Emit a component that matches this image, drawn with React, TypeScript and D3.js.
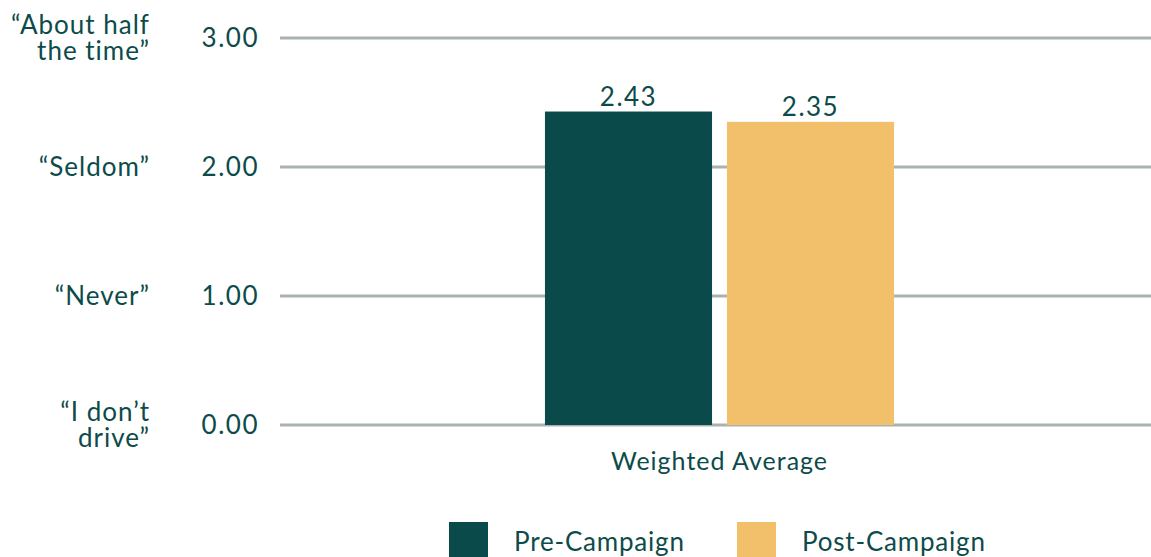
import { useEffect, useRef } from "react"
import * as d3 from "d3"

const categories = ["Weighted Average"]
const series = ["Pre-Campaign", "Post-Campaign"]
const values = [2.43, 2.35]
const yTicks = [0, 1, 2, 3]
const yTickLabels = [["“I don’t", "drive”"], ["“Never”"], ["“Seldom”"], ["“About half", "the time”"]]
const colors = ["#0b4a4b", "#f2c06b"]

const textColor = "#0d4b4b"
const font = "Lato, 'Noto Sans', sans-serif"

export default function App() {
  const svgRef = useRef<SVGSVGElement>(null)

  useEffect(() => {
    if (!svgRef.current) return
    const svg = d3.select(svgRef.current)
    svg.selectAll("*").remove()

    const width = 1151
    const height = 557
    const margin = { top: 38, right: -8, bottom: 132, left: 280 }
    const innerWidth = width - margin.left - margin.right
    const innerHeight = height - margin.top - margin.bottom

    const y = d3.scaleLinear().domain([0, 3]).range([innerHeight, 0])
    const x0 = d3.scaleBand().domain(categories).range([0, innerWidth]).paddingInner(0).paddingOuter(0.759)
    const x1 = d3.scaleBand().domain(series).range([0, x0.bandwidth()]).paddingInner(0.082)

    const g = svg.append("g").attr("transform", `translate(${margin.left},${margin.top})`)

    // grid lines
    g.selectAll("line.grid")
      .data(yTicks)
      .join("line")
      .attr("class", "grid")
      .attr("x1", 0)
      .attr("x2", innerWidth)
      .attr("y1", (d) => y(d))
      .attr("y2", (d) => y(d))
      .attr("stroke", "#aab1b1")
      .attr("stroke-width", 3)

    // numeric tick labels
    g.selectAll("text.tick")
      .data(yTicks)
      .join("text")
      .attr("class", "tick")
      .attr("x", -21)
      .attr("y", (d) => y(d))
      .attr("dy", "0.35em")
      .attr("text-anchor", "end")
      .attr("font-family", font)
      .attr("font-size", 26)
      .attr("letter-spacing", 1.5)
      .attr("fill", textColor)
      .text((d) => d.toFixed(2))

    // descriptive labels, one text per line
    const lh = 26
    yTicks.forEach((t, i) => {
      const lines = yTickLabels[i]
      lines.forEach((l, j) => {
        g.append("text")
          .attr("x", -130)
          .attr("y", y(t) - ((lines.length - 1) * lh) / 2 + j * lh)
          .attr("dy", "0.35em")
          .attr("text-anchor", "end")
          .attr("font-family", font)
          .attr("font-size", 26)
          .attr("letter-spacing", 1)
          .attr("fill", textColor)
          .text(l)
      })
    })

    // bars
    const group = g
      .selectAll("g.cat")
      .data(categories)
      .join("g")
      .attr("class", "cat")
      .attr("transform", (d) => `translate(${x0(d)},0)`)

    group
      .selectAll("rect")
      .data(series.map((s, i) => ({ s, v: values[i], c: colors[i] })))
      .join("rect")
      .attr("x", (d) => x1(d.s)!)
      .attr("y", (d) => y(d.v))
      .attr("width", x1.bandwidth())
      .attr("height", (d) => innerHeight - y(d.v))
      .attr("fill", (d) => d.c)

    group
      .selectAll("text.val")
      .data(series.map((s, i) => ({ s, v: values[i] })))
      .join("text")
      .attr("class", "val")
      .attr("x", (d) => x1(d.s)! + x1.bandwidth() / 2)
      .attr("y", (d) => y(d.v) - 6)
      .attr("text-anchor", "middle")
      .attr("font-family", font)
      .attr("font-size", 26)
      .attr("letter-spacing", 1.5)
      .attr("fill", textColor)
      .text((d) => d.v.toFixed(2))

    // category label
    g.selectAll("text.cat")
      .data(categories)
      .join("text")
      .attr("class", "cat")
      .attr("x", (d) => x0(d)! + x0.bandwidth() / 2)
      .attr("y", innerHeight + 45)
      .attr("text-anchor", "middle")
      .attr("font-family", font)
      .attr("font-size", 25)
      .attr("letter-spacing", 1)
      .attr("fill", textColor)
      .text((d) => d)

    // legend
    const legendX = [449, 737]
    const legend = svg
      .selectAll("g.legend")
      .data(series)
      .join("g")
      .attr("class", "legend")
      .attr("transform", (_, i) => `translate(${legendX[i]},522)`)
    legend
      .append("rect")
      .attr("width", 39)
      .attr("height", 39)
      .attr("fill", (_, i) => colors[i])
    legend
      .append("text")
      .attr("x", 65)
      .attr("y", 29)
      .attr("font-family", font)
      .attr("font-size", 26)
      .attr("letter-spacing", 0.8)
      .attr("fill", textColor)
      .text((d) => d)
  }, [])

  return (
    <svg
      ref={svgRef}
      width={1151}
      height={557}
      style={{ position: "absolute", left: 0, top: 0, background: "#fff" }}
    />
  )
}
